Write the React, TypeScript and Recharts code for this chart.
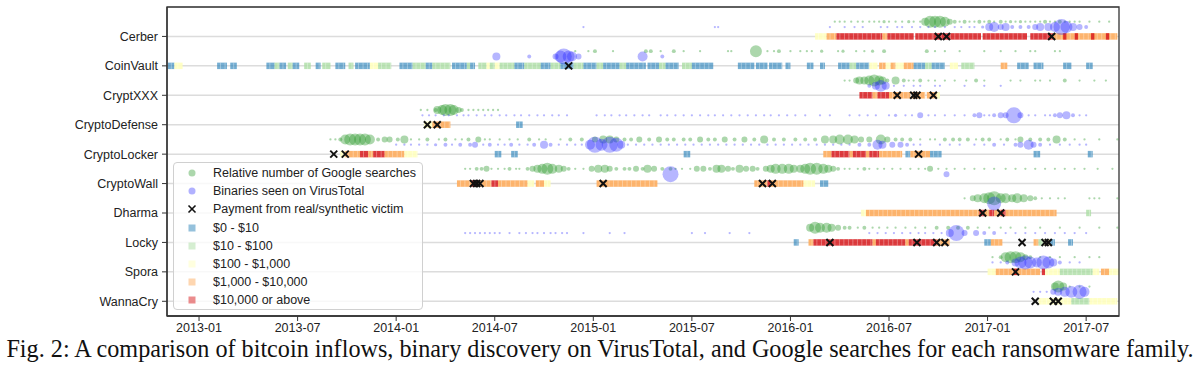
import React from "react";
import {
  ScatterChart,
  Scatter,
  XAxis,
  YAxis,
  ZAxis,
  CartesianGrid,
  ReferenceArea,
} from "recharts";

// x values are months since 2013-01, rows go bottom (0) to top (9)
const FAMILIES = [
  "WannaCry",
  "Spora",
  "Locky",
  "Dharma",
  "CryptoWall",
  "CryptoLocker",
  "CryptoDefense",
  "CryptXXX",
  "CoinVault",
  "Cerber",
];

const X_TICKS = [0, 6, 12, 18, 24, 30, 36, 42, 48, 54];
const X_TICK_LABELS = [
  "2013-01",
  "2013-07",
  "2014-01",
  "2014-07",
  "2015-01",
  "2015-07",
  "2016-01",
  "2016-07",
  "2017-01",
  "2017-07",
];

const BIN_LABELS = [
  "$0 - $10",
  "$10 - $100",
  "$100 - $1,000",
  "$1,000 - $10,000",
  "$10,000 or above",
];
const BIN_COLORS = ["#2b83ba", "#abdda4", "#ffffbf", "#fdae61", "#d7191c"];
const BIN_OPACITY = [0.65, 0.8, 0.9, 0.92, 0.85];

// inflow runs: [start, end, amount bin]
const cerberInflow = [
  [37.5, 38.2, 2], [38.2, 38.8, 3], [38.8, 41.6, 4], [41.6, 41.9, 3], [41.9, 43.5, 4],
  [43.6, 44.7, 4], [44.7, 47.6, 4], [47.7, 50.4, 4], [50.6, 52.0, 4], [52.0, 55.9, 3],
  [52.6, 52.8, 4], [53.3, 53.5, 4], [54.3, 54.5, 4], [55.2, 55.4, 4],
];
const coinvaultInflow = [
  [-1.9, -1.5, 0], [-1.5, -1.0, 2], [1.1, 1.7, 0], [1.9, 2.3, 0], [4.1, 4.6, 0],
  [4.6, 4.9, 1], [4.9, 5.3, 0], [5.4, 5.7, 1], [5.7, 6.1, 0], [6.4, 6.8, 1],
  [7.1, 7.4, 0], [7.5, 8.0, 1], [8.3, 8.9, 0], [9.1, 9.4, 1], [9.5, 10.4, 0],
  [10.4, 10.9, 2], [10.9, 11.7, 1], [12.2, 13.0, 0], [13.0, 13.8, 1], [13.8, 14.2, 0],
  [14.2, 15.3, 1], [15.4, 16.3, 0], [16.3, 16.5, 1], [16.5, 16.8, 0], [17.0, 17.5, 1],
  [17.5, 17.7, 2], [17.7, 18.0, 1], [18.0, 18.3, 2], [18.3, 19.2, 1], [19.2, 19.8, 0],
  [19.8, 20.8, 1], [20.8, 21.4, 0], [21.4, 22.0, 1], [22.0, 22.8, 0], [22.8, 23.4, 1],
  [23.4, 24.2, 0], [24.2, 24.6, 1], [24.6, 25.6, 0], [25.6, 26.0, 1], [26.0, 27.2, 0],
  [27.3, 28.0, 0], [28.0, 28.4, 1], [28.4, 29.2, 0], [29.4, 30.0, 1], [30.0, 31.3, 0],
  [32.8, 33.8, 0], [33.9, 34.6, 0], [34.7, 35.5, 0], [35.7, 36.0, 0],
  [37.0, 37.4, 0], [37.8, 38.1, 0], [38.9, 39.6, 0], [39.6, 40.0, 1], [40.0, 40.8, 0],
  [40.8, 41.3, 2], [41.4, 41.8, 3], [41.8, 42.1, 2], [42.1, 42.4, 3], [42.4, 42.9, 2],
  [42.9, 43.5, 3], [43.5, 44.2, 0], [44.2, 44.6, 1], [44.6, 45.4, 0], [45.7, 46.2, 2],
  [46.4, 47.2, 1], [48.8, 49.2, 3], [49.8, 50.5, 0], [50.8, 51.4, 0], [52.6, 53.1, 0],
  [54.0, 54.4, 0],
];
const cryptxxxInflow = [
  [40.2, 41.0, 4], [41.0, 41.3, 3], [41.3, 42.0, 4], [42.0, 42.4, 3], [42.4, 43.3, 3],
  [43.4, 44.2, 3], [44.3, 44.9, 3], [44.9, 45.1, 2],
];
const cryptodefenseInflow = [
  [13.7, 14.2, 2], [14.2, 15.3, 3], [19.3, 19.7, 0],
];
const cryptolockerInflow = [
  [8.6, 8.9, 2], [8.9, 9.8, 3], [9.8, 10.3, 4], [10.3, 10.6, 3], [10.6, 11.3, 4],
  [11.3, 12.5, 3], [12.5, 13.3, 2], [18.0, 18.4, 0], [19.0, 19.4, 0], [29.5, 29.9, 0],
  [38.0, 38.5, 3], [38.5, 39.6, 4], [39.6, 39.8, 3], [39.8, 40.6, 4], [40.6, 40.8, 3],
  [40.8, 41.4, 4], [41.4, 42.8, 3], [43.0, 43.3, 0], [43.3, 44.0, 3], [44.0, 44.5, 3],
  [44.5, 45.2, 0], [50.8, 51.2, 0], [54.1, 54.4, 0],
];
const cryptowallInflow = [
  [15.7, 16.6, 3], [16.6, 17.0, 4], [17.0, 17.8, 3], [17.8, 18.2, 4], [18.2, 20.0, 3],
  [20.0, 20.4, 2], [20.5, 21.0, 3], [21.0, 21.4, 2], [24.2, 27.9, 3], [33.8, 34.6, 3],
  [34.6, 34.8, 4], [34.8, 36.8, 3], [36.8, 37.5, 2], [37.8, 38.3, 0],
];
const dharmaInflow = [
  [40.3, 40.6, 2], [40.6, 47.5, 3], [47.5, 47.8, 4], [47.8, 48.1, 3], [48.1, 48.4, 4],
  [48.4, 48.8, 3], [48.8, 49.1, 4], [49.1, 52.2, 3], [54.0, 54.3, 1],
];
const lockyInflow = [
  [36.2, 36.5, 0], [37.1, 37.4, 3], [37.4, 41.0, 4], [41.0, 41.2, 3], [41.2, 43.0, 4],
  [43.0, 43.2, 3], [43.2, 44.9, 4], [44.9, 45.7, 3], [47.8, 48.2, 0], [48.2, 48.9, 3],
  [50.8, 51.1, 3], [51.1, 51.4, 1], [51.4, 51.8, 2], [51.8, 52.1, 0], [52.9, 53.2, 0],
];
const sporaInflow = [
  [48.0, 48.5, 2], [48.5, 51.2, 3], [49.6, 49.8, 4], [51.3, 51.5, 4], [51.5, 52.4, 2],
  [52.4, 54.4, 1], [54.4, 54.8, 2], [54.9, 55.4, 3], [55.4, 56.0, 2],
];
const wannacryInflow = [
  [51.1, 52.4, 2], [52.4, 53.1, 2], [53.1, 54.2, 1], [54.2, 55.9, 2],
];

// Google searches: [month, relative volume]
const cerberGoogle = [
  [38.7, 2], [39.0, 2], [39.3, 2], [39.7, 2], [40.1, 2], [40.4, 2], [40.8, 2], [41.1, 2],
  [41.4, 2], [41.7, 4], [42.0, 2], [42.4, 2], [42.8, 2], [43.2, 4], [43.5, 2], [43.9, 2],
  [44.2, 25], [44.5, 56], [44.8, 56], [45.1, 56], [45.4, 39], [45.7, 14], [46.0, 6],
  [46.3, 2], [46.6, 6], [46.9, 2], [47.2, 2], [47.5, 6], [47.8, 2], [48.1, 6], [48.4, 2],
  [48.8, 6], [49.1, 2], [49.4, 4], [49.7, 2], [50.0, 4], [50.3, 2], [50.6, 2], [50.9, 2],
  [51.2, 2], [51.5, 6], [51.8, 2], [52.1, 2], [52.4, 6], [52.7, 2], [53.0, 2], [53.3, 2],
  [53.6, 2], [54.2, 2], [54.8, 2], [55.4, 2],
];
const coinvaultGoogle = [
  [22.9, 2], [23.7, 2], [24.1, 6], [25.2, 2], [27.2, 6], [27.5, 6], [28.1, 2], [28.9, 6],
  [29.5, 2], [30.5, 2], [32.2, 2], [32.4, 2], [33.9, 56], [34.6, 2], [35.0, 2], [35.3, 6],
  [36.0, 2], [36.6, 2], [37.0, 2], [37.3, 2], [37.9, 4], [38.9, 2], [39.2, 4], [40.0, 2],
  [40.5, 2], [41.0, 4], [41.7, 6], [44.3, 6], [44.8, 2], [45.4, 2], [46.3, 2], [47.8, 2],
  [48.8, 2], [49.7, 2], [50.6, 2], [50.9, 2], [52.1, 2], [52.4, 2],
];
const cryptxxxGoogle = [
  [39.3, 2], [39.6, 2], [40.0, 14], [40.2, 25], [40.5, 25], [40.8, 39], [41.1, 56],
  [41.4, 39], [41.6, 25], [41.9, 6], [42.4, 25], [42.9, 6], [43.2, 2], [43.5, 2], [43.9, 6],
  [44.4, 2], [44.8, 2], [45.4, 2], [46.0, 2], [46.7, 2], [47.3, 6], [47.8, 2], [49.4, 2],
  [50.0, 2], [50.9, 2], [51.2, 2], [51.8, 2], [52.7, 6], [53.6, 2], [54.5, 2], [55.2, 2],
];
const cryptodefenseGoogle = [
  [13.5, 2], [13.9, 2], [14.4, 6], [14.5, 25], [14.8, 39], [15.0, 56], [15.3, 56],
  [15.5, 39], [15.8, 14], [16.0, 6], [16.4, 2], [16.7, 2], [17.0, 2], [17.3, 2], [17.6, 2],
  [17.9, 2], [18.2, 2],
];
const cryptolockerGoogle = [
  [8.0, 2], [8.3, 2], [8.6, 6], [8.9, 39], [9.2, 56], [9.5, 56], [9.8, 56], [10.1, 56],
  [10.4, 39], [10.9, 6], [11.3, 14], [11.6, 14], [12.1, 6], [12.5, 25], [12.9, 2],
  [13.4, 2], [13.9, 6], [14.6, 2], [15.0, 6], [15.6, 2], [16.0, 2], [16.4, 6], [17.0, 14],
  [17.4, 2], [17.7, 2], [18.3, 2], [18.9, 2], [19.4, 2], [20.1, 6], [20.7, 2], [21.1, 2],
  [22.0, 2], [22.6, 6], [23.3, 6], [24.1, 14], [24.6, 25], [25.0, 25], [25.4, 14],
  [25.9, 6], [26.3, 6], [26.8, 14], [27.4, 6], [28.0, 14], [28.5, 6], [28.9, 6], [29.5, 6],
  [29.9, 6], [30.5, 14], [31.0, 6], [31.4, 6], [32.0, 14], [32.6, 6], [33.2, 14], [33.8, 6],
  [34.4, 25], [35.0, 6], [35.6, 6], [36.3, 6], [36.9, 6], [37.5, 6], [38.1, 25], [38.6, 25],
  [39.0, 39], [39.5, 39], [39.9, 25], [40.3, 14], [40.8, 14], [41.5, 39], [41.9, 14],
  [42.4, 6], [42.8, 6], [43.3, 6], [43.9, 2], [44.5, 2], [44.8, 2], [45.4, 6], [45.9, 6],
  [46.3, 6], [46.8, 6], [47.3, 2], [47.7, 6], [48.1, 6], [48.8, 2], [49.2, 6], [49.7, 2],
  [50.0, 14], [50.6, 6], [51.2, 6], [51.7, 6], [52.2, 25], [52.7, 6], [53.3, 2], [53.9, 2],
  [54.8, 2], [55.9, 2],
];
const cryptowallGoogle = [
  [16.2, 2], [16.5, 2], [16.9, 6], [17.2, 6], [17.5, 14], [17.8, 2], [18.2, 2], [18.6, 2],
  [18.9, 6], [19.3, 2], [19.5, 2], [20.0, 6], [20.3, 14], [20.6, 25], [20.9, 39], [21.2, 56],
  [21.5, 39], [21.9, 25], [22.2, 14], [22.5, 6], [22.9, 2], [23.4, 2], [23.9, 14], [24.3, 25],
  [24.7, 25], [25.0, 14], [25.4, 6], [25.9, 6], [26.2, 6], [26.6, 14], [27.0, 6], [27.3, 25],
  [27.7, 14], [28.2, 6], [28.7, 6], [29.0, 2], [29.4, 2], [29.9, 2], [30.3, 14], [30.7, 14],
  [31.1, 6], [31.5, 25], [31.8, 25], [32.2, 14], [32.5, 6], [32.9, 25], [33.3, 14],
  [33.7, 14], [34.0, 6], [34.5, 14], [34.8, 25], [35.1, 39], [35.5, 39], [35.9, 39],
  [36.2, 25], [36.6, 25], [36.9, 39], [37.2, 56], [37.6, 56], [38.0, 39], [38.3, 25],
  [38.6, 14], [38.9, 6], [39.3, 2], [39.6, 2], [40.1, 2], [40.5, 6], [40.8, 2], [41.3, 2],
  [41.7, 2], [42.2, 2], [42.7, 2], [43.3, 2], [43.8, 2], [44.2, 2], [44.5, 14], [45.0, 2],
  [45.5, 2], [46.0, 2], [46.6, 2], [47.2, 2], [47.8, 2], [48.4, 2], [49.1, 2], [49.7, 2],
  [50.3, 2], [50.9, 2], [51.5, 2], [52.1, 2], [52.7, 2], [53.3, 2], [53.9, 2], [54.7, 2],
  [55.6, 2],
];
const dharmaGoogle = [
  [46.6, 2], [47.1, 14], [47.4, 25], [47.8, 39], [48.1, 56], [48.4, 77], [48.8, 39],
  [49.1, 39], [49.5, 25], [49.8, 39], [50.2, 25], [50.6, 14], [50.9, 6], [51.3, 2],
  [51.8, 2], [52.3, 2], [52.7, 2], [54.2, 2], [54.5, 2], [54.8, 2], [55.9, 2],
];
const lockyGoogle = [
  [37.2, 25], [37.5, 56], [37.8, 39], [38.2, 39], [38.5, 25], [38.9, 14], [39.3, 6],
  [39.6, 6], [40.1, 2], [40.5, 6], [41.0, 2], [41.4, 2], [41.9, 2], [42.4, 2], [43.0, 2],
  [43.6, 2], [44.2, 2], [44.9, 6], [45.6, 6], [46.2, 6], [46.8, 6], [47.4, 2], [48.1, 2],
  [48.8, 2], [49.4, 2], [50.3, 2], [51.2, 2], [52.4, 2], [53.6, 2], [54.8, 2], [55.9, 2],
];
const sporaGoogle = [
  [48.3, 2], [48.8, 6], [49.1, 39], [49.4, 56], [49.7, 56], [50.0, 39], [50.3, 14],
  [50.6, 6], [51.2, 2], [51.8, 2], [52.4, 2], [53.3, 2], [54.2, 2], [54.8, 2],
];
const wannacryGoogle = [
  [52.1, 25], [52.3, 56], [52.6, 25], [53.0, 2], [53.6, 2], [54.2, 2],
];

// binaries seen on VirusTotal: [month, relative count]
const cerberVt = [
  [23.4, 2], [31.4, 2], [31.6, 2], [38.4, 2], [39.3, 2], [39.9, 2], [40.4, 2], [41.5, 2],
  [41.9, 2], [42.5, 2], [42.8, 2], [43.4, 2], [43.9, 2], [44.4, 2], [44.8, 2], [45.4, 2],
  [46.0, 2], [46.4, 2], [46.9, 2], [47.2, 2], [47.7, 4], [48.1, 25], [48.4, 39], [48.8, 14],
  [49.1, 25], [49.5, 6], [50.0, 6], [50.5, 6], [50.9, 14], [51.2, 25], [51.7, 25],
  [52.1, 39], [52.5, 100], [52.8, 56], [53.2, 25], [53.6, 14], [54.0, 6],
];
const coinvaultVt = [
  [18.1, 25], [20.1, 6], [21.7, 14], [22.0, 56], [22.2, 100], [22.5, 56], [22.7, 39],
  [23.1, 14], [27.0, 39], [28.2, 6],
];
const cryptxxxVt = [
  [40.8, 6], [41.2, 25], [41.5, 56], [41.8, 25], [42.3, 2], [42.9, 2], [43.5, 2], [43.9, 2],
  [44.8, 2], [45.1, 2], [46.6, 2], [47.8, 2], [48.8, 2],
];
const cryptodefenseVt = [
  [13.6, 2], [14.0, 2], [14.4, 2], [14.9, 2], [15.2, 2], [15.7, 2], [16.1, 2], [16.4, 2],
  [16.9, 2], [17.4, 2], [17.8, 2], [18.3, 2], [18.7, 2], [19.2, 2], [19.6, 2], [20.1, 2],
  [20.6, 2], [21.0, 2], [21.5, 2], [21.9, 2], [22.4, 2], [24.2, 2], [24.7, 2], [25.1, 2],
  [25.6, 2], [26.0, 2], [26.5, 2], [27.0, 2], [27.4, 2], [28.1, 2], [28.5, 2], [29.0, 2],
  [29.5, 2], [30.0, 2], [30.5, 2], [31.0, 2], [31.4, 2], [31.9, 2], [32.4, 2], [32.9, 2],
  [33.4, 2], [33.9, 2], [34.4, 2], [34.8, 2], [35.3, 2], [35.8, 2], [36.3, 2], [36.9, 2],
  [37.8, 2], [38.4, 2], [39.6, 2], [40.2, 2], [40.7, 2], [41.2, 2], [42.0, 2], [42.4, 4],
  [43.0, 2], [43.4, 2], [43.9, 14], [44.4, 2], [44.8, 2], [45.4, 2], [46.0, 2], [46.6, 2],
  [47.2, 6], [47.5, 14], [47.8, 2], [48.1, 2], [48.4, 6], [48.8, 14], [49.1, 14],
  [49.6, 100], [50.0, 14], [50.5, 2], [50.9, 2], [51.5, 2], [51.8, 2], [52.1, 6], [52.4, 14],
  [52.8, 25], [53.2, 6], [53.6, 2], [54.0, 2],
];
const cryptolockerVt = [
  [12.0, 2], [12.5, 2], [12.9, 2], [13.4, 2], [13.9, 2], [14.4, 4], [15.0, 6], [15.4, 2],
  [15.9, 6], [16.5, 6], [16.8, 14], [17.3, 2], [17.7, 6], [18.2, 2], [18.6, 2], [19.0, 6],
  [19.5, 2], [20.0, 2], [20.4, 6], [21.0, 25], [21.4, 6], [21.9, 2], [22.4, 2], [22.9, 2],
  [23.3, 2], [23.8, 39], [24.1, 100], [24.5, 56], [25.0, 100], [25.4, 77], [25.7, 25],
  [26.1, 2], [26.6, 2], [27.1, 2], [27.6, 2], [28.1, 2], [28.6, 2], [29.1, 2], [29.6, 2],
  [30.1, 2], [30.6, 2], [31.1, 2], [31.6, 2], [32.1, 2], [32.6, 2], [33.1, 2], [33.6, 2],
  [34.1, 2], [34.6, 2], [35.1, 2], [35.6, 2], [36.1, 2], [36.6, 2], [37.1, 2], [37.6, 2],
  [38.1, 2], [38.6, 2], [39.1, 2], [39.6, 2], [40.2, 6], [40.8, 6], [41.3, 39], [41.6, 25],
  [42.2, 14], [42.7, 14], [43.1, 6], [43.5, 2], [43.9, 2], [45.1, 2], [45.7, 2], [46.3, 2],
  [47.2, 2], [47.8, 2], [48.4, 6], [49.0, 2], [49.7, 6], [50.0, 14], [50.5, 39], [50.8, 14],
  [51.2, 6], [51.8, 2], [52.4, 2], [53.0, 2], [53.6, 2], [54.0, 2],
];
const cryptowallVt = [
  [28.7, 100], [45.5, 14],
];
const dharmaVt = [
  [48.4, 77],
];
const lockyVt = [
  [16.2, 2], [16.5, 2], [16.8, 2], [17.1, 2], [17.4, 2], [17.7, 2], [18.0, 2], [18.3, 2],
  [18.9, 2], [19.5, 2], [19.9, 2], [20.3, 2], [20.6, 2], [21.0, 2], [21.4, 2], [21.7, 2],
  [22.1, 2], [22.4, 2], [23.4, 2], [25.0, 2], [25.9, 2], [30.0, 2], [30.8, 2], [32.3, 2],
  [33.5, 2], [40.8, 2], [41.3, 2], [41.8, 2], [42.3, 2], [42.8, 2], [43.3, 2], [43.8, 2],
  [44.2, 2], [44.7, 2], [45.2, 2], [45.7, 25], [46.1, 100], [46.6, 14], [47.3, 14],
  [47.8, 6], [48.4, 6], [49.1, 2], [49.7, 2], [50.3, 2], [50.9, 2], [51.5, 2], [52.1, 2],
  [52.7, 2], [53.3, 2], [54.0, 2],
];
const sporaVt = [
  [48.3, 2], [48.8, 2], [49.2, 6], [49.7, 25], [50.0, 56], [50.3, 77], [50.6, 56],
  [51.0, 39], [51.4, 77], [51.7, 56], [52.0, 25], [52.4, 6], [53.0, 2], [53.6, 2],
];
const wannacryVt = [
  [50.8, 2], [51.2, 2], [51.6, 2], [52.0, 14], [52.3, 25], [52.7, 39], [53.1, 56],
  [53.6, 77], [53.9, 39],
];

// payments from real/synthetic victims
const cerberPay = [45.0, 45.5, 51.9];
const coinvaultPay = [22.5];
const cryptxxxPay = [42.5, 43.5, 43.7, 44.7];
const cryptodefensePay = [13.9, 14.5];
const cryptolockerPay = [8.2, 8.9, 43.8];
const cryptowallPay = [16.7, 16.9, 17.1, 24.6, 34.3, 34.9];
const dharmaPay = [47.7, 48.8];
const lockyPay = [38.4, 43.7, 44.9, 45.4, 50.1, 51.5, 51.7];
const sporaPay = [49.7];
const wannacryPay = [50.9, 52.0, 52.3];

const ROWS = [
  { inflow: wannacryInflow, google: wannacryGoogle, vt: wannacryVt, pay: wannacryPay },
  { inflow: sporaInflow, google: sporaGoogle, vt: sporaVt, pay: sporaPay },
  { inflow: lockyInflow, google: lockyGoogle, vt: lockyVt, pay: lockyPay },
  { inflow: dharmaInflow, google: dharmaGoogle, vt: dharmaVt, pay: dharmaPay },
  { inflow: cryptowallInflow, google: cryptowallGoogle, vt: cryptowallVt, pay: cryptowallPay },
  { inflow: cryptolockerInflow, google: cryptolockerGoogle, vt: cryptolockerVt, pay: cryptolockerPay },
  { inflow: cryptodefenseInflow, google: cryptodefenseGoogle, vt: cryptodefenseVt, pay: cryptodefensePay },
  { inflow: cryptxxxInflow, google: cryptxxxGoogle, vt: cryptxxxVt, pay: cryptxxxPay },
  { inflow: coinvaultInflow, google: coinvaultGoogle, vt: coinvaultVt, pay: coinvaultPay },
  { inflow: cerberInflow, google: cerberGoogle, vt: cerberVt, pay: cerberPay },
];

const X_MIN = -1.95;
const X_MAX = 56.0;
const Y_MIN = -0.5;
const Y_MAX = 10;

const GOOGLE_COLOR = "#2f9a2f";
const VT_COLOR = "#2020ff";
const FONT = "'Liberation Sans', Arial, Helvetica, sans-serif";

const googlePts = ROWS.flatMap((r, i) => r.google.map(([x, z]) => ({ x, y: i + 0.5, z })));
const vtPts = ROWS.flatMap((r, i) => r.vt.map(([x, z]) => ({ x, y: i + 0.32, z })));
const payPts = ROWS.flatMap((r, i) => r.pay.map((x) => ({ x, y: i, z: 1 })));
const inflowSegs = ROWS.flatMap((r, i) =>
  r.inflow.map(([x1, x2, bin]) => ({ x1, x2, y: i, bin }))
);

// flat run with thin light gaps so it reads like daily blocks
function StripedRect(props: any) {
  const { x, y, width, height, fill, fillOpacity } = props;
  if (x == null || y == null || !(width > 0)) return null;
  const gaps = [];
  for (let gx = x + 3; gx < x + width - 1; gx += 4.5) {
    gaps.push(<rect key={gx} x={gx} y={y} width={0.9} height={height} fill="#fff" fillOpacity={0.35} />);
  }
  return (
    <g>
      <rect x={x} y={y} width={width} height={height} fill={fill} fillOpacity={fillOpacity} />
      {gaps}
    </g>
  );
}

function PayCross(props: any) {
  const { cx, cy } = props;
  if (cx == null || cy == null) return null;
  const s = 3.5;
  return (
    <g stroke="#111" strokeWidth={2}>
      <line x1={cx - s} y1={cy - s} x2={cx + s} y2={cy + s} />
      <line x1={cx - s} y1={cy + s} x2={cx + s} y2={cy - s} />
    </g>
  );
}

function LegendBox() {
  const rowH = 18.2;
  const marker = (i: number) => {
    if (i === 0) return <circle cx={7} cy={7} r={3.5} fill={GOOGLE_COLOR} fillOpacity={0.4} />;
    if (i === 1) return <circle cx={7} cy={7} r={3.5} fill={VT_COLOR} fillOpacity={0.35} />;
    if (i === 2)
      return (
        <g stroke="#111" strokeWidth={1.6}>
          <line x1={3.5} y1={3.5} x2={10.5} y2={10.5} />
          <line x1={3.5} y1={10.5} x2={10.5} y2={3.5} />
        </g>
      );
    return <rect x={3.5} y={3.5} width={7} height={7} fill={BIN_COLORS[i - 3]} fillOpacity={0.5} />;
  };
  const labels = [
    "Relative number of Google searches",
    "Binaries seen on VirusTotal",
    "Payment from real/synthetic victim",
    ...BIN_LABELS,
  ];
  return (
    <div
      style={{
        position: "absolute",
        left: 173,
        top: 162,
        width: 250,
        height: 148,
        boxSizing: "border-box",
        border: "1px solid #d0d0d0",
        borderRadius: 4,
        background: "rgba(255,255,255,0.8)",
        fontFamily: FONT,
        fontSize: 12.5,
        color: "#222",
      }}
    >
      {labels.map((label, i) => (
        <div key={label} style={{ position: "absolute", left: 0, top: 1 + i * rowH, height: rowH, width: "100%" }}>
          <svg width={14} height={14} style={{ position: "absolute", left: 11, top: 2 }}>
            {marker(i)}
          </svg>
          <span style={{ position: "absolute", left: 39, top: 1, whiteSpace: "nowrap", lineHeight: "16px" }}>
            {label}
          </span>
        </div>
      ))}
    </div>
  );
}

export default function App() {
  return (
    <div style={{ position: "absolute", left: 0, top: 0, width: 1200, height: 368, background: "#fff" }}>
      <ScatterChart width={1200} height={368} margin={{ top: 7, right: 81, bottom: 22, left: 67 }}>
        <CartesianGrid horizontal vertical={false} stroke="#dcdcdc" strokeWidth={1.5} />
        <XAxis
          type="number"
          dataKey="x"
          domain={[X_MIN, X_MAX]}
          ticks={X_TICKS}
          interval={0}
          allowDataOverflow
          tickFormatter={(v: number) => X_TICK_LABELS[X_TICKS.indexOf(v)]}
          tick={{ fontSize: 12.5, fill: "#222", fontFamily: FONT }}
          tickLine={{ stroke: "#333" }}
          axisLine={{ stroke: "#333", strokeWidth: 1.3 }}
          tickSize={5}
          height={30}
        />
        <YAxis
          type="number"
          dataKey="y"
          domain={[Y_MIN, Y_MAX]}
          ticks={[0, 1, 2, 3, 4, 5, 6, 7, 8, 9]}
          interval={0}
          allowDataOverflow
          tickFormatter={(v: number) => FAMILIES[v]}
          tick={{ fontSize: 12.5, fill: "#222", fontFamily: FONT }}
          tickLine={{ stroke: "#333" }}
          axisLine={{ stroke: "#333", strokeWidth: 1.3 }}
          tickSize={5}
          tickMargin={4}
          width={100}
        />
        <ZAxis type="number" dataKey="z" domain={[0, 100]} range={[0, 201]} />
        {inflowSegs.map((s, k) => (
          <ReferenceArea
            key={k}
            x1={s.x1}
            x2={s.x2}
            y1={s.y - 0.11}
            y2={s.y + 0.11}
            fill={BIN_COLORS[s.bin]}
            fillOpacity={BIN_OPACITY[s.bin]}
            stroke="none"
            ifOverflow="visible"
            shape={(p: any) => <StripedRect {...p} />}
          />
        ))}
        <ReferenceArea
          x1={X_MIN}
          x2={X_MAX}
          y1={Y_MIN}
          y2={Y_MAX}
          fill="none"
          stroke="#333"
          strokeWidth={1.3}
          ifOverflow="visible"
        />
        <Scatter data={googlePts} fill={GOOGLE_COLOR} fillOpacity={0.4} shape="circle" isAnimationActive={false} />
        <Scatter data={vtPts} fill={VT_COLOR} fillOpacity={0.33} shape="circle" isAnimationActive={false} />
        <Scatter data={payPts} shape={<PayCross />} isAnimationActive={false} />
      </ScatterChart>
      <LegendBox />
      <div
        style={{
          position: "absolute",
          left: 0,
          width: 1200,
          top: 336,
          textAlign: "center",
          fontFamily: "'Liberation Serif', 'Times New Roman', serif",
          fontSize: 24.2,
          lineHeight: "26px",
          color: "#111",
          whiteSpace: "nowrap",
        }}
      >
        Fig. 2: A comparison of bitcoin inflows, binary discovery on VirusTotal, and Google searches for each ransomware family.
      </div>
    </div>
  );
}
